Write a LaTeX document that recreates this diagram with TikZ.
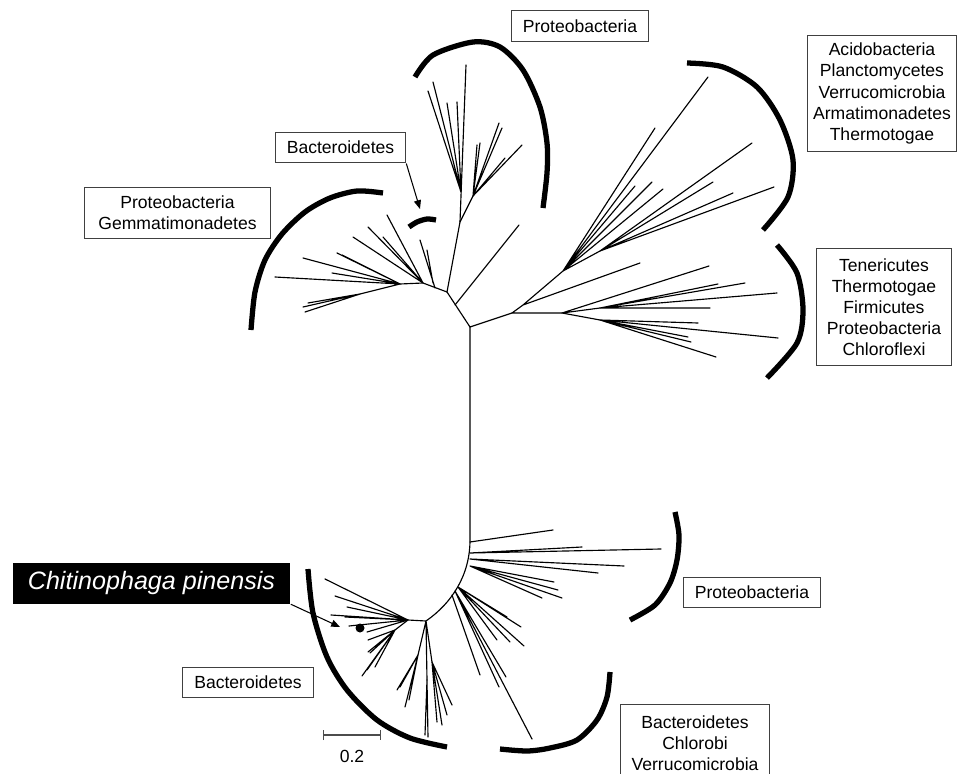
\documentclass[tikz,border=0pt]{standalone}
\usepackage{fontspec}
\setmainfont{Liberation Sans}
\usetikzlibrary{arrows.meta}
\tikzset{
  taxbox/.style={draw=black!75, line width=0.6pt, fill=white, align=center,
                 font=\fontsize{10}{12}\selectfont, inner xsep=2pt, inner ysep=4pt,
                 minimum width=#1, minimum height=17.6pt},
  chibox/.style={fill=black, text=white, inner sep=0pt,
                 font=\fontsize{14.3}{16}\selectfont\itshape,
                 minimum width=158.2pt, minimum height=23.2pt},
  branch/.style={line width=0.65pt, line cap=round},
  clade/.style={line width=3pt},
  arr/.style={-{Triangle[length=5pt, width=4pt]}, line width=0.6pt},
  scalebar/.style={{Bar[width=5.7pt]}-{Bar[width=5.7pt]}, black!70, line width=0.7pt},
}

\begin{document}
\begin{tikzpicture}[x=0.02cm, y=-0.02cm]
  \useasboundingbox (0,0) rectangle (958,774);

  % ─── Backbone ──────────────────────────────────────────────
  \coordinate (jA) at (447,292);
  \coordinate (jB) at (470,327);
  \coordinate (jD) at (512,313);
  \coordinate (jT) at (470,540);
  \coordinate (jE) at (426,621);
  \draw[branch] (jA) -- (jB) -- (jD);
  \draw[branch] (jB) -- (jT) .. controls (470,575) and (452,603) .. (jE);
  \draw[branch] (455,305) -- (519,225);

  % ─── Top Proteobacteria clade ──────────────────────────────
  \coordinate (jP) at (460,222);
  \coordinate (jP1) at (461,192);
  \coordinate (jP2) at (473,196);
  \draw[branch] (jA) -- (jP) -- (466,65);
  \draw[branch] (jP1) -- (433,82) (jP1) -- (428,91) (jP1) -- (447,103) (jP1) -- (457,102);
  \draw[branch] (jP) -- (jP2);
  \draw[branch] (jP2) -- (480,143) (jP2) -- (477,145) (jP2) -- (499,123)
                (jP2) -- (502,128) (jP2) -- (522,145) (jP2) -- (505,158);

  % ─── Left clade (Proteobacteria / Gemmatimonadetes) ────────
  \coordinate (jL) at (423,283);
  \coordinate (jL2) at (400,284);
  \coordinate (jL3) at (360,294);
  \draw[branch] (jA) -- (jL) -- (jL2);
  \draw[branch] (435,288) -- (420,240) (433,283) -- (427,250);
  \draw[branch] (jL) -- (387,215) (jL) -- (368,227) (jL) -- (383,237) (jL) -- (353,237);
  \draw[branch] (jL2) -- (337,253) (jL2) -- (342,255) (jL2) -- (303,258)
                (jL2) -- (275,277) (jL2) -- (332,273) (jL2) -- (jL3);
  \draw[branch] (jL3) -- (305,312) (jL3) -- (308,303) (jL3) -- (303,307);

  % ─── Right clades ──────────────────────────────────────────
  \coordinate (jR1) at (523,305);
  \coordinate (jR2) at (562,313);
  \coordinate (jR3) at (563,271);
  \coordinate (jR4) at (600,251);
  \coordinate (jR5) at (600,308);
  \coordinate (jR6) at (600,320);
  \draw[branch] (jD) -- (jR2) (jD) -- (jR1) -- (jR3) (jR1) -- (640,263);
  \draw[branch] (jR3) -- (708,77) (jR3) -- (655,128) (jR3) -- (652,182)
                (jR3) -- (635,186) (jR3) -- (663,189) (jR3) -- (jR4);
  \draw[branch] (jR4) -- (752,143) (jR4) -- (774,187) (jR4) -- (733,193) (jR4) -- (713,182);
  \draw[branch] (jR2) -- (709,266) (jR2) -- (jR5) (jR2) -- (jR6);
  \draw[branch] (jR5) -- (718,284) (jR5) -- (745,283) (jR5) -- (777,293) (jR5) -- (710,308);
  \draw[branch] (jR6) -- (698,323) (jR6) -- (778,338) (jR6) -- (688,337)
                (jR6) -- (691,342) (jR6) -- (716,357);

  % ─── Lower right clade (Proteobacteria) ────────────────────
  \draw[branch] (470,542) -- (553,530);
  \draw[branch] (470,553) -- (661,549) (470,553) -- (582,547);
  \draw[branch] (470,559) -- (624,566) (470,559) -- (598,573);
  \draw[branch] (470,566) -- (554,582) (470,566) -- (558,590)
                (470,566) -- (562,598) (470,566) -- (542,598);

  % ─── Lower clade (Bacteroidetes / Chlorobi / Verrucomicrobia)
  \draw[branch] (458,587) -- (521,627) (458,587) -- (524,646) (458,587) -- (497,640)
                (458,587) -- (510,642) (458,587) -- (507,617);
  \draw[branch] (455,591) -- (532,739) (455,591) -- (499,687) (455,591) -- (506,677);
  \draw[branch] (452,595) -- (480,675);

  % ─── Bacteroidetes clade ───────────────────────────────────
  \coordinate (jB1) at (408,620);
  \coordinate (jB1a) at (395,630);
  \coordinate (jB2) at (418,655);
  \coordinate (jB3) at (427,680);
  \coordinate (jB4) at (432,662);
  \draw[branch] (jE) -- (jB1) -- (jB1a) (jE) -- (jB2) (jE) -- (jB3) (jE) -- (jB4);
  \draw[branch] (jB1) -- (325,579) (jB1) -- (335,596) (jB1) -- (347,607) (jB1) -- (331,615)
                (jB1) -- (349,626) (jB1) -- (367,632) (jB1) -- (345,617);
  \draw[branch] (jB1a) -- (368,640) (jB1a) -- (370,653) (jB1a) -- (362,676)
                (jB1a) -- (367,670) (jB1a) -- (375,667) (jB1a) -- (368,652);
  \draw[branch] (jB2) -- (397,690) (jB2) -- (400,687) (jB2) -- (405,707) (jB2) -- (409,700);
  \draw[branch] (jB3) -- (425,735) (jB3) -- (428,737);
  \draw[branch] (jB4) -- (452,705) (jB4) -- (442,725) (jB4) -- (447,715) (jB4) -- (437,722);

  % ─── Clade arcs ────────────────────────────────────────────
  \draw[clade] plot[smooth] coordinates {(415,77) (433,55) (473,42) (500,47) (523,70)
                                        (540,107) (547,143) (547,173) (543,208)};
  \draw[clade] plot[smooth] coordinates {(687,63) (723,67) (757,87) (780,120) (793,160)
                                        (788,197) (763,230)};
  \draw[clade] plot[smooth] coordinates {(777,245) (797,273) (803,310) (797,343) (767,378)};
  \draw[clade] plot[smooth] coordinates {(383,193) (357,191) (330,198) (305,212) (282,234)
                                        (265,260) (255,292) (251,330)};
  \draw[clade] plot[smooth] coordinates {(409,227) (417,222) (427,219) (436,220)};
  \draw[clade] plot[smooth] coordinates {(675,512) (679,535) (677,560) (670,583)
                                        (655,605) (630,620)};
  \draw[clade] plot[smooth] coordinates {(610,672) (607,697) (597,720) (577,740)
                                        (550,748) (527,751) (500,749)};
  \draw[clade] plot[smooth] coordinates {(308,569) (313,613) (327,657) (347,690)
                                        (377,720) (410,738) (447,747)};

  % ─── Labels ────────────────────────────────────────────────
  \node[taxbox=78.2pt] (proTop) at (580,26) {Proteobacteria};
  \node[taxbox=85pt, minimum height=66.3pt] (acido) at (882,93.5)
    {Acidobacteria\\Planctomycetes\\Verrucomicrobia\\Armatimonadetes\\Thermotogae};
  \node[taxbox=74.3pt] (bacTop) at (340.5,147.5) {Bacteroidetes};
  \node[taxbox=106pt, minimum height=29.5pt] (proGem) at (177.5,213)
    {Proteobacteria\\Gemmatimonadetes};
  \node[taxbox=77.1pt, minimum height=66.9pt] (tener) at (884,307)
    {Tenericutes\\Thermotogae\\Firmicutes\\Proteobacteria\\Chloroflexi};
  \node[taxbox=78.2pt] (proLow) at (752,592.5) {Proteobacteria};
  \node[taxbox=74.8pt] (bacLow) at (248,682.5) {Bacteroidetes};
  \node[taxbox=85pt, minimum height=44.2pt] (bacChl) at (695,743)
    {Bacteroidetes\\Chlorobi\\Verrucomicrobia};
  \node[chibox] (chiti) at (151.5,583.5) {Chitinophaga pinensis};

  % pointers
  \coordinate (bacTip) at (420,209);
  \coordinate (chiTip) at (340,627);
  \draw[arr] (bacTop.south east) -- (bacTip);
  \draw[arr] (chiti.south east) -- (chiTip);
  \fill (360,628) circle (4.5);

  % scale bar
  \coordinate (sbL) at (323,735);
  \coordinate (sbR) at (381,735);
  \draw[scalebar] (sbL) -- (sbR);
  \node[font=\fontsize{10}{12}\selectfont] (sbTxt) at (352,756) {0.2};

\end{tikzpicture}
\end{document}
